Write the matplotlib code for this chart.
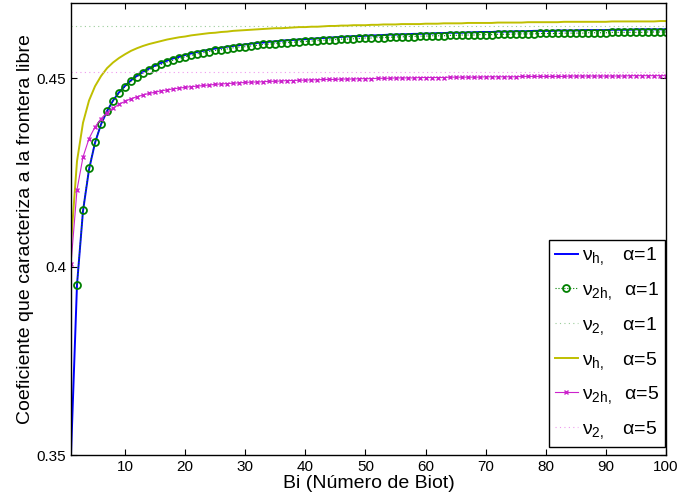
import numpy as np
import matplotlib
matplotlib.use("Agg")
import matplotlib.pyplot as plt

plt.rcParams['font.family'] = ['Liberation Sans', 'DejaVu Sans']
plt.rcParams['mathtext.fontset'] = 'custom'
plt.rcParams['mathtext.rm'] = 'Liberation Sans'
plt.rcParams['mathtext.it'] = 'Liberation Sans'
plt.rcParams['mathtext.sf'] = 'Liberation Sans'

# Biot number grid (integer values 1..100)
bi = list(range(1, 101))

# nu_h, alpha = 1
nu_h_a1 = [
    0.3500, 0.3952, 0.4148, 0.4258, 0.4329, 0.4378, 0.4413, 0.4441, 0.4463, 0.4480,
    0.4495, 0.4507, 0.4517, 0.4526, 0.4534, 0.4541, 0.4547, 0.4553, 0.4557, 0.4562,
    0.4566, 0.4570, 0.4573, 0.4576, 0.4579, 0.4581, 0.4584, 0.4586, 0.4588, 0.4590,
    0.4592, 0.4594, 0.4595, 0.4597, 0.4598, 0.4600, 0.4601, 0.4602, 0.4603, 0.4604,
    0.4605, 0.4606, 0.4607, 0.4608, 0.4609, 0.4610, 0.4611, 0.4612, 0.4612, 0.4613,
    0.4614, 0.4614, 0.4615, 0.4616, 0.4616, 0.4617, 0.4617, 0.4618, 0.4618, 0.4619,
    0.4619, 0.4620, 0.4620, 0.4621, 0.4621, 0.4621, 0.4622, 0.4622, 0.4623, 0.4623,
    0.4623, 0.4624, 0.4624, 0.4624, 0.4625, 0.4625, 0.4625, 0.4626, 0.4626, 0.4626,
    0.4626, 0.4627, 0.4627, 0.4627, 0.4627, 0.4628, 0.4628, 0.4628, 0.4628, 0.4628,
    0.4629, 0.4629, 0.4629, 0.4629, 0.4630, 0.4630, 0.4630, 0.4630, 0.4630, 0.4630,
]

# nu_2h, alpha = 1 (markers from Bi = 2)
bi_2h_a1 = list(range(2, 101))
nu_2h_a1 = [
    0.3952, 0.4151, 0.4261, 0.4330, 0.4378, 0.4413, 0.4440, 0.4461, 0.4478,
    0.4492, 0.4504, 0.4514, 0.4523, 0.4531, 0.4537, 0.4543, 0.4548, 0.4553, 0.4557,
    0.4561, 0.4565, 0.4568, 0.4571, 0.4574, 0.4576, 0.4578, 0.4581, 0.4583, 0.4584,
    0.4586, 0.4588, 0.4590, 0.4591, 0.4592, 0.4594, 0.4595, 0.4596, 0.4597, 0.4598,
    0.4599, 0.4600, 0.4601, 0.4602, 0.4603, 0.4604, 0.4604, 0.4605, 0.4606, 0.4607,
    0.4607, 0.4608, 0.4608, 0.4609, 0.4610, 0.4610, 0.4611, 0.4611, 0.4612, 0.4612,
    0.4613, 0.4613, 0.4613, 0.4614, 0.4614, 0.4615, 0.4615, 0.4615, 0.4616, 0.4616,
    0.4616, 0.4617, 0.4617, 0.4617, 0.4618, 0.4618, 0.4618, 0.4618, 0.4619, 0.4619,
    0.4619, 0.4619, 0.4620, 0.4620, 0.4620, 0.4620, 0.4621, 0.4621, 0.4621, 0.4621,
    0.4622, 0.4622, 0.4622, 0.4622, 0.4622, 0.4622, 0.4623, 0.4623, 0.4623, 0.4623,
]

# nu_h, alpha = 5
nu_h_a5 = [
    0.4062, 0.4280, 0.4382, 0.4441, 0.4479, 0.4506, 0.4527, 0.4542, 0.4554, 0.4564,
    0.4573, 0.4580, 0.4586, 0.4591, 0.4595, 0.4599, 0.4603, 0.4606, 0.4609, 0.4611,
    0.4614, 0.4616, 0.4618, 0.4620, 0.4621, 0.4623, 0.4624, 0.4626, 0.4627, 0.4628,
    0.4629, 0.4630, 0.4631, 0.4632, 0.4633, 0.4633, 0.4634, 0.4635, 0.4636, 0.4636,
    0.4637, 0.4637, 0.4638, 0.4639, 0.4639, 0.4640, 0.4640, 0.4641, 0.4641, 0.4641,
    0.4642, 0.4642, 0.4643, 0.4643, 0.4643, 0.4644, 0.4644, 0.4644, 0.4644, 0.4645,
    0.4645, 0.4645, 0.4646, 0.4646, 0.4646, 0.4646, 0.4647, 0.4647, 0.4647, 0.4647,
    0.4647, 0.4648, 0.4648, 0.4648, 0.4648, 0.4648, 0.4649, 0.4649, 0.4649, 0.4649,
    0.4649, 0.4649, 0.4650, 0.4650, 0.4650, 0.4650, 0.4650, 0.4650, 0.4650, 0.4650,
    0.4651, 0.4651, 0.4651, 0.4651, 0.4651, 0.4651, 0.4651, 0.4651, 0.4652, 0.4652,
]

# nu_2h, alpha = 5
nu_2h_a5 = [
    0.4007, 0.4204, 0.4291, 0.4340, 0.4371, 0.4393, 0.4409, 0.4421, 0.4431, 0.4439,
    0.4446, 0.4451, 0.4456, 0.4460, 0.4463, 0.4467, 0.4469, 0.4472, 0.4474, 0.4476,
    0.4478, 0.4479, 0.4481, 0.4482, 0.4484, 0.4485, 0.4486, 0.4487, 0.4488, 0.4489,
    0.4490, 0.4490, 0.4491, 0.4492, 0.4492, 0.4493, 0.4494, 0.4494, 0.4495, 0.4495,
    0.4496, 0.4496, 0.4497, 0.4497, 0.4497, 0.4498, 0.4498, 0.4498, 0.4499, 0.4499,
    0.4499, 0.4500, 0.4500, 0.4500, 0.4501, 0.4501, 0.4501, 0.4501, 0.4502, 0.4502,
    0.4502, 0.4502, 0.4502, 0.4503, 0.4503, 0.4503, 0.4503, 0.4503, 0.4503, 0.4504,
    0.4504, 0.4504, 0.4504, 0.4504, 0.4504, 0.4505, 0.4505, 0.4505, 0.4505, 0.4505,
    0.4505, 0.4505, 0.4505, 0.4506, 0.4506, 0.4506, 0.4506, 0.4506, 0.4506, 0.4506,
    0.4506, 0.4506, 0.4506, 0.4507, 0.4507, 0.4507, 0.4507, 0.4507, 0.4507, 0.4507,
]

# nu_2 limits (constant)
nu_2_a1 = 0.4639
nu_2_a5 = 0.4516

labels = [
    r'ν$_{h,}$   α=1',
    r'ν$_{2h,}$  α=1',
    r'ν$_{2,}$   α=1',
    r'ν$_{h,}$   α=5',
    r'ν$_{2h,}$  α=5',
    r'ν$_{2,}$   α=5',
]

fig = plt.figure(figsize=(6.78, 4.97), dpi=100)
ax = fig.add_axes([0.1047, 0.0845, 0.8776, 0.9095])

dots = (0, (1, 3))
ax.plot(bi, nu_h_a1, color='#0000ff', lw=1.4, label=labels[0])
ax.plot(bi_2h_a1, nu_2h_a1, color='#008000', ls=':', lw=0.8, marker='o',
        markersize=5.0, markerfacecolor='none', markeredgewidth=1.3, label=labels[1])
ax.axhline(nu_2_a1, color='#99cc99', ls=dots, lw=0.8, label=labels[2])
ax.plot(bi, nu_h_a5, color='#bfbf00', lw=1.4, label=labels[3])
ax.plot(bi, nu_2h_a5, color='#cc22cc', lw=0.8, marker='x', markersize=3.5,
        markeredgewidth=1.0, label=labels[4])
ax.axhline(nu_2_a5, color='#ee99ee', ls=dots, lw=0.8, label=labels[5])

ax.set_xlim(1, 100)
ax.set_ylim(0.35, 0.47)
ax.set_xticks([10, 20, 30, 40, 50, 60, 70, 80, 90, 100])
ax.set_yticks([0.35, 0.4, 0.45])
ax.set_yticklabels(['0.35', '0.4', '0.45'])
ax.tick_params(direction='in', length=4.5, width=0.8, top=True, right=True,
               labelsize=11)
for s in ax.spines.values():
    s.set_linewidth(1.0)

ax.set_xlabel('Bi (Número de Biot)', fontsize=14, labelpad=1)
ax.set_ylabel('Coeficiente que caracteriza a la frontera libre', fontsize=14, labelpad=2)

leg = ax.legend(loc='lower right', bbox_to_anchor=(0.998, 0.018), borderaxespad=0,
                fontsize=14, handlelength=1.2, handletextpad=0.2, labelspacing=0.66,
                borderpad=0.3, fancybox=False, framealpha=1, edgecolor='black')
leg.get_frame().set_linewidth(1.0)

fig.savefig('out.png', dpi=100)
